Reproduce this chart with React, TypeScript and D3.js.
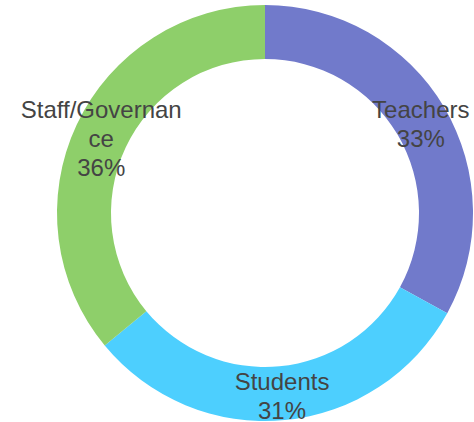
import { useEffect, useRef } from "react";
import * as d3 from "d3";

const categories = ["Teachers", "Students", "Staff/Governance"];
const shares = [33, 31, 36];
const labelLines = [["Teachers"], ["Students"], ["Staff/Governan", "ce"]];
const colors = ["#717acb", "#4dcffe", "#8ecf6a"];

const WIDTH = 474;
const HEIGHT = 422;

export default function App() {
  const svgRef = useRef<SVGSVGElement | null>(null);

  useEffect(() => {
    if (!svgRef.current) return;
    const svg = d3.select(svgRef.current);
    svg.selectAll("*").remove();

    const cx = 265;
    const cy = 213;
    const outer = 208;
    const inner = 154;

    const g = svg.append("g").attr("transform", `translate(${cx},${cy})`);

    const data = categories.map((c, i) => ({ name: c, value: shares[i], lines: labelLines[i], color: colors[i] }));

    const pie = d3
      .pie<any>()
      .sort(null)
      .value((d) => d.value);
    const arcs = pie(data);

    const arcGen = d3.arc<any>().innerRadius(inner).outerRadius(outer);

    g.selectAll(".slice")
      .data(arcs)
      .enter()
      .append("path")
      .attr("class", "slice")
      .attr("d", (d) => arcGen(d) as string)
      .attr("fill", (d) => d.data.color);

    const lineH = 29;
    const labels = g
      .selectAll(".label")
      .data(arcs)
      .enter()
      .append("text")
      .attr("class", "label")
      .attr("transform", (d) => {
        const [x, y] = arcGen.centroid(d);
        return `translate(${x},${y + 3})`;
      })
      .attr("text-anchor", "middle")
      .style("font-family", "Arial, 'Liberation Sans', sans-serif")
      .style("font-size", "24px")
      .style("fill", "#444444");

    labels.each(function (d) {
      const lines = [...d.data.lines, `${d.data.value}%`];
      const t = d3.select(this);
      const top = -((lines.length - 1) * lineH) / 2;
      lines.forEach((ln, k) => {
        t.append("tspan")
          .attr("x", 0)
          .attr("y", top + k * lineH)
          .attr("dy", "0.35em")
          .text(ln);
      });
    });
  }, []);

  return (
    <svg
      ref={svgRef}
      width={WIDTH}
      height={HEIGHT}
      style={{ position: "absolute", left: 0, top: 0, background: "#fff" }}
    />
  );
}
